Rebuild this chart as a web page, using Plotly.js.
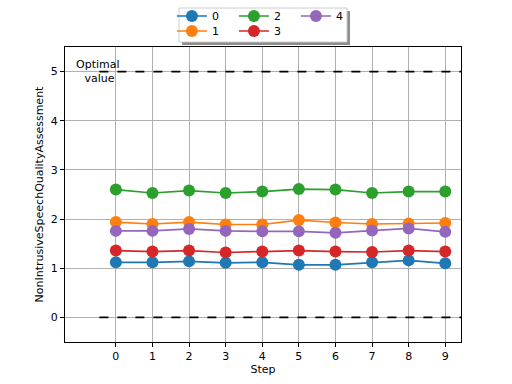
<!DOCTYPE html>
<html>
<head>
<meta charset="utf-8">
<script src="https://cdn.plot.ly/plotly-3.0.1.min.js"></script>
<style>html,body{margin:0;padding:0;background:#fff;}#chart{width:512px;height:384px;}</style>
</head>
<body>
<div id="chart"></div>
<script>
const steps = [0, 1, 2, 3, 4, 5, 6, 7, 8, 9];
const seriesNames = ["0", "1", "2", "3", "4"];
const s0 = [1.12, 1.12, 1.14, 1.11, 1.12, 1.07, 1.07, 1.12, 1.16, 1.10];
const s1 = [1.94, 1.90, 1.94, 1.89, 1.89, 1.98, 1.93, 1.90, 1.91, 1.92];
const s2 = [2.60, 2.53, 2.58, 2.53, 2.56, 2.61, 2.60, 2.53, 2.56, 2.56];
const s3 = [1.36, 1.34, 1.36, 1.32, 1.34, 1.36, 1.34, 1.33, 1.36, 1.34];
const s4 = [1.76, 1.76, 1.80, 1.76, 1.75, 1.75, 1.72, 1.77, 1.81, 1.74];
const optimalValue = 5;
const baselineValue = 0;
const refLineX = [-0.45, 9.5];
const colors = ["#1f77b4", "#ff7f0e", "#2ca02c", "#d62728", "#9467bd"];
// legend rows: series 0,2,4 in first row, 1,3 in second row (column-major like matplotlib)
const legendRow = ["legend", "legend2", "legend", "legend2", "legend"];

const allSeries = [s0, s1, s2, s3, s4];
const traces = [];
traces.push({x: refLineX, y: [optimalValue, optimalValue], mode: "lines", line: {color: "#000", dash: "dash", width: 1.6}, showlegend: false, hoverinfo: "skip"});
traces.push({x: refLineX, y: [baselineValue, baselineValue], mode: "lines", line: {color: "#000", dash: "dash", width: 1.6}, showlegend: false, hoverinfo: "skip"});
allSeries.forEach((s, i) => {
  traces.push({
    x: steps, y: s, name: seriesNames[i], mode: "lines+markers",
    line: {color: colors[i], width: 1.7},
    marker: {color: colors[i], size: 12},
    legend: legendRow[i]
  });
});

const font = {family: "DejaVu Sans", size: 11, color: "#000"};
const legendBase = {
  orientation: "h", x: 0.270, xanchor: "left", yanchor: "middle",
  bgcolor: "rgba(0,0,0,0)", borderwidth: 0,
  entrywidth: 17, entrywidthmode: "pixels",
  font: {family: "DejaVu Sans", size: 11, color: "#000"},
  traceorder: "normal"
};
const layout = {
  width: 512, height: 384,
  margin: {l: 65, r: 51, t: 47, b: 42, autoexpand: false},
  paper_bgcolor: "#fff", plot_bgcolor: "#fff",
  font: font,
  showlegend: true,
  legend: Object.assign({}, legendBase, {y: 1.1051}),
  legend2: Object.assign({}, legendBase, {y: 1.0542}),
  xaxis: {
    range: [-1.39, 9.43], tickvals: steps, ticktext: steps.map(String),
    showgrid: true, gridcolor: "#b0b0b0", gridwidth: 1,
    zeroline: false, showline: true, linecolor: "#000", linewidth: 1, mirror: true,
    ticks: "outside", ticklen: 4, tickcolor: "#000",
    title: {text: "Step", font: font, standoff: 2}
  },
  yaxis: {
    range: [-0.5, 5.5], tickvals: [0, 1, 2, 3, 4, 5],
    showgrid: true, gridcolor: "#b0b0b0", gridwidth: 1,
    zeroline: false, showline: true, linecolor: "#000", linewidth: 1, mirror: true,
    ticks: "outside", ticklen: 4, tickcolor: "#000",
    title: {text: "NonIntrusiveSpeechQualityAssessment", font: font, standoff: 4}
  },
  annotations: [{
    x: -0.5, y: optimalValue, xref: "x", yref: "y",
    text: "Optimal<br> value", showarrow: false, align: "center",
    xanchor: "center", yanchor: "middle",
    font: {family: "DejaVu Sans", size: 11, color: "#000"}
  }],
  shapes: [
    {type: "rect", xref: "paper", yref: "paper", layer: "below",
     x0: 0.2955, x1: 0.7197, y0: 1.0068, y1: 1.1220,
     fillcolor: "#8c8c8c", line: {width: 0}},
    {type: "rect", xref: "paper", yref: "paper", layer: "below",
     x0: 0.2879, x1: 0.7121, y0: 1.0169, y1: 1.1322,
     fillcolor: "#fff", line: {color: "#cccccc", width: 1}}
  ]
};
Plotly.newPlot("chart", traces, layout, {displayModeBar: false, staticPlot: true});
</script>
</body>
</html>
